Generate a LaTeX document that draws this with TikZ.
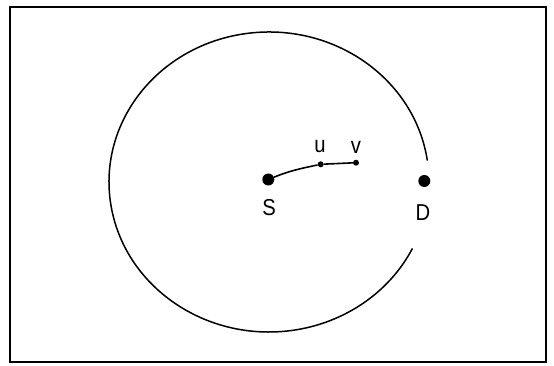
\documentclass[tikz,border=0pt]{standalone}
\usepackage{fontspec}
\setmainfont{Liberation Sans}
\newcommand{\narrowtxt}[1]{\scalebox{0.88}[1]{#1}}
\begin{document}
\begin{tikzpicture}[x=1pt,y=1pt,
  bigdot/.style={circle,fill=black,inner sep=0pt,minimum size=12pt},
  smalldot/.style={circle,fill=black,inner sep=0pt,minimum size=6pt},
  lbl/.style={inner sep=0pt,font=\fontsize{23}{25}\selectfont},
  linkline/.style={line width=1.6pt},
  framebox/.style={line width=2.2pt},
  rangearc/.style={line width=1.5pt}]
\useasboundingbox (0,0) rectangle (554,366);
\draw[framebox] (10,359) rectangle (546,4);
\coordinate (c) at (269,184);
\draw[rangearc] (c) ++(8.2:160 and 150) arc[start angle=8.2,end angle=333.7,x radius=160,y radius=150];
\node[bigdot] (S) at (268.3,186.5) {};
\node[smalldot] (u) at (320.7,201.7) {};
\node[smalldot] (v) at (356,203.3) {};
\node[bigdot] (D) at (424.3,185) {};
\node[lbl] (Sl) at (269,158) {\narrowtxt{S}};
\node[lbl] (Dl) at (423,153) {\narrowtxt{D}};
\node[lbl] (ul) at (320,219) {\narrowtxt{u}};
\node[lbl] (vl) at (356,219) {\narrowtxt{v}};
\draw[linkline] (S) to[out=22,in=192] (u);
\draw[linkline] (u) -- (v);
\end{tikzpicture}
\end{document}
